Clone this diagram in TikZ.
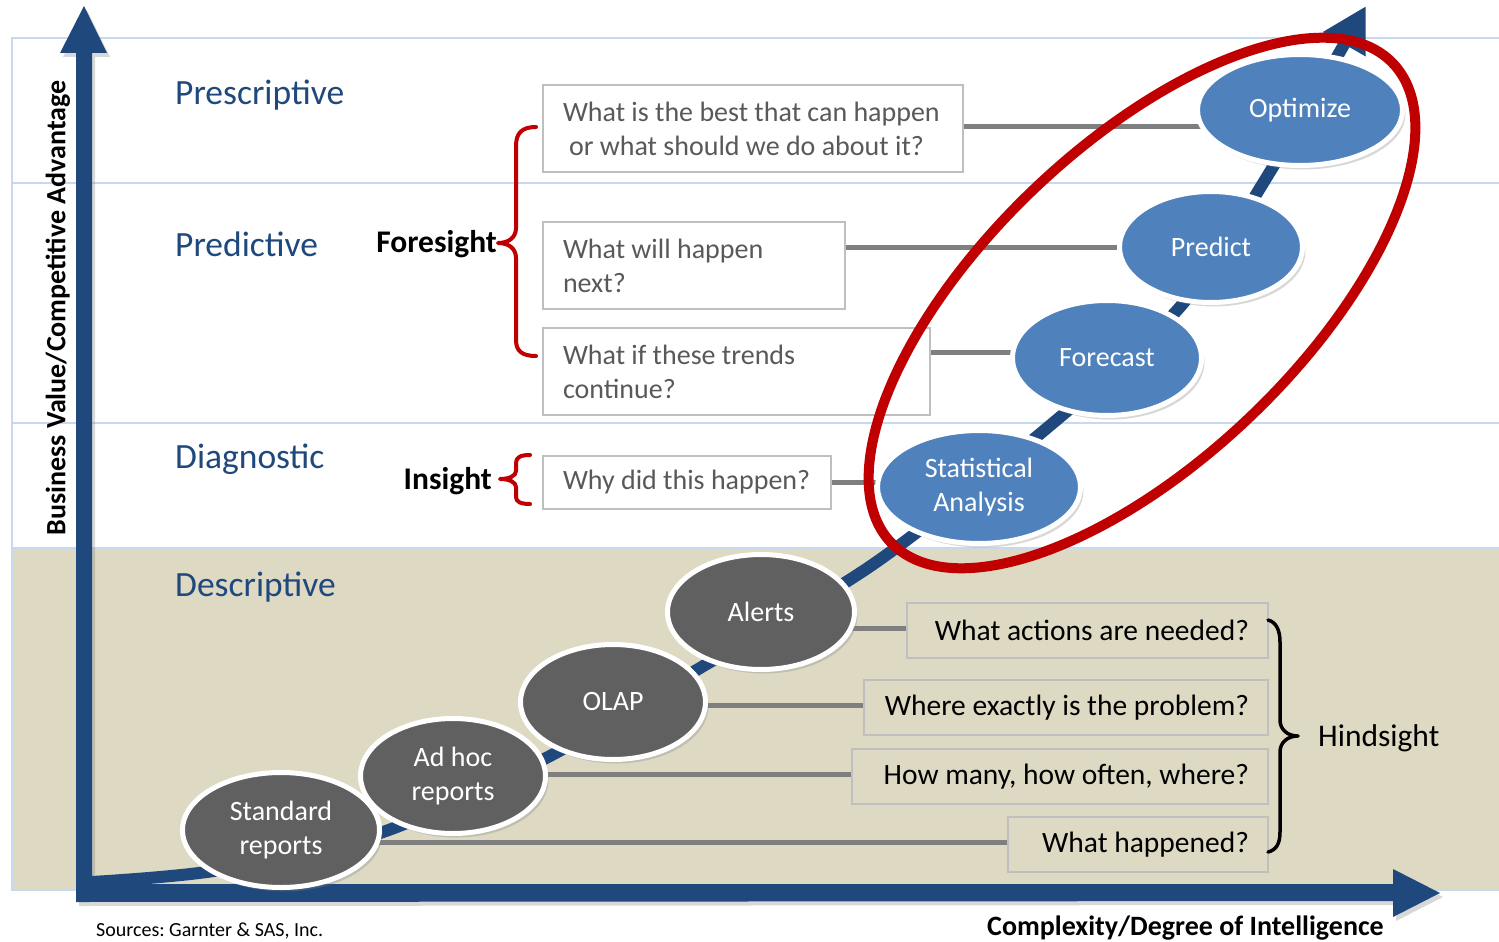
\documentclass[tikz,border=0pt]{standalone}
\usepackage{fontspec}
\setmainfont{Carlito}
\frenchspacing
\usetikzlibrary{shapes.geometric,arrows.meta,shadows}
\pgfdeclarelayer{bg}
\pgfsetlayers{bg,main}
\definecolor{axisblue}{HTML}{1F497D}
\definecolor{gridblue}{HTML}{C6D9F1}
\definecolor{tanbg}{HTML}{DDD9C3}
\definecolor{ellblue}{HTML}{4F81BD}
\definecolor{ellgray}{HTML}{606060}
\definecolor{boxgray}{HTML}{BFBFBF}
\definecolor{linkgray}{HTML}{7F7F7F}
\definecolor{qtext}{HTML}{595959}
\definecolor{bracered}{HTML}{C00000}
\tikzset{
 ell/.style={ellipse, draw=white, line width=5pt, inner sep=0pt, text=white, align=center,
   font=\fontsize{28}{34}\selectfont,
   drop shadow={opacity=0.3, shadow xshift=3pt, shadow yshift=-4pt}},
 ellb/.style={ell, fill=ellblue},
 ellg/.style={ell, fill=ellgray},
 qbox/.style={draw=boxgray, line width=2pt, inner xsep=20pt, inner ysep=0pt, anchor=north west,
   font=\fontsize{28}{34}\selectfont},
 qup/.style={qbox, fill=white, text=qtext},
 qlow/.style={qbox, inner xsep=19pt, fill=tanbg, text=black, font=\fontsize{29.5}{34}\selectfont},
 link/.style={draw=linkgray, line width=5pt},
 linkshadow/.style={draw=black!22, line width=5pt},
 level/.style={anchor=base west, inner sep=0pt, text=axisblue, font=\fontsize{35.5}{40}\selectfont},
 sight/.style={inner sep=0pt, font=\bfseries\fontsize{31.5}{36}\selectfont, text=black},
 bracepath/.style={line width=4pt, line cap=round, line join=round},
}
\begin{document}
\begin{tikzpicture}[x=1pt,y=-1pt]
\useasboundingbox (0,0) rectangle (1499,942);
\begin{pgfonlayer}{bg}
\fill[white] (0,0) rectangle (1499,942);
\fill[tanbg] (12,548) rectangle (1499,890);
\draw[gridblue, line width=2pt] (1499,38) -- (12,38) -- (12,890) -- (1499,890);
\foreach \yy in {183,423,548} \draw[gridblue, line width=2pt] (12,\yy) -- (1499,\yy);
% axes
\fill[axisblue, drop shadow={opacity=0.3, shadow xshift=3pt, shadow yshift=-4pt}]
  (76,902) -- (76,53) -- (60,53) -- (84,6) -- (107,53) -- (92,53) -- (92,884)
  -- (1393,884) -- (1393,869) -- (1440,893) -- (1393,917) -- (1393,901) -- cycle;
% growth curve
\draw[axisblue, line width=12pt, -{Triangle[width=46pt,length=44pt]}]
  plot[smooth, tension=0.5] coordinates {(92,882) (220,870) (383,832) (548,757) (700,668) (875,563) (1053,423) (1180,307) (1265,180) (1366,6)};
\end{pgfonlayer}

% question boxes
\node[qup, minimum width=420pt, minimum height=87pt] (b1) at (542,84)
  {\parbox{380pt}{What is the best that can happen\\\hspace*{6pt}or what should we do about it?}};
\node[qup, minimum width=302pt, minimum height=87pt] (b2) at (542,221) {\parbox{262pt}{What will happen\\next?}};
\node[qup, minimum width=387pt, minimum height=87pt] (b3) at (542,327) {\parbox{347pt}{What if these trends\\continue?}};
\node[qup, minimum width=288pt, minimum height=53pt] (b4) at (542,455) {\makebox[248pt][l]{Why did this happen?}};
\node[qlow, minimum width=361pt, minimum height=55pt] (q5) at (906,602) {\makebox[323pt][r]{What actions are needed?}};
\node[qlow, minimum width=404pt, minimum height=55pt] (q6) at (863,679) {\makebox[366pt][r]{Where exactly is the problem?}};
\node[qlow, minimum width=416pt, minimum height=55pt] (q7) at (851,748) {\makebox[378pt][r]{How many, how often, where?}};
\node[qlow, minimum width=260pt, minimum height=55pt] (q8) at (1007,816) {\makebox[222pt][r]{What happened?}};

% ellipses
\node[ellb, minimum width=205pt, minimum height=111pt] (opt) at (1300,110) {Optimize};
\node[ellb, minimum width=183pt, minimum height=111pt] (pred) at (1211,247) {Predict};
\node[ellb, minimum width=189pt, minimum height=115pt] (fc) at (1107,358) {Forecast};
\node[ellb, minimum width=203pt, minimum height=113pt] (stat) at (979,487) {Statistical\\Analysis};
\node[ellg, minimum width=187pt, minimum height=115pt] (alerts) at (761,612) {Alerts};
\node[ellg, minimum width=185pt, minimum height=115pt] (olap) at (613,702) {OLAP};
\node[ellg, minimum width=185pt, minimum height=115pt] (adhoc) at (453,776) {Ad hoc\\reports};
\node[ellg, minimum width=197pt, minimum height=115pt] (std) at (281,830) {Standard\\reports};

\coordinate (b1c) at ([yshift=2pt]b1.east);
\coordinate (b3c) at ([yshift=19pt]b3.east);
\coordinate (q5c) at ([yshift=2pt]q5.west);
\coordinate (q6c) at ([yshift=2pt]q6.west);
\coordinate (q7c) at ([yshift=2pt]q7.west);
\coordinate (q8c) at ([yshift=2pt]q8.west);
\begin{pgfonlayer}{bg}
\foreach \st/\sh in {linkshadow/-3pt, link/0pt}{
  \begin{scope}[yshift=\sh]
  \draw[\st] (b1c) -- (b1c -| opt.center);
  \draw[\st] (pred.center -| b2.east) -- (pred.center);
  \draw[\st] (b3c) -- (b3c -| fc.center);
  \draw[\st] (b4.east) -- (b4.east -| stat.center);
  \draw[\st] (q5c) -- (q5c -| alerts.center);
  \draw[\st] (q6c) -- (q6c -| olap.center);
  \draw[\st] (q7c) -- (q7c -| adhoc.center);
  \draw[\st] (q8c) -- (q8c -| std.center);
  \end{scope}
}
\end{pgfonlayer}

% red ellipse
\draw[bracered, line width=10pt, rotate around={43.7:(1142,303)}] (1142,303) ellipse [x radius=347pt, y radius=157pt];

% braces
\draw[bracered, bracepath] (536,127) .. controls (522,127) and (516,133) .. (516,146) -- (516,228)
  .. controls (516,238) and (508,243) .. (498,243) .. controls (508,243) and (516,248) .. (516,258)
  -- (516,340) .. controls (516,351) and (522,356) .. (536,356);
\draw[bracered, bracepath] (530,455) .. controls (521,455) and (516,457) .. (516,463) -- (516,471)
  .. controls (516,476) and (509,479) .. (500,479) .. controls (509,479) and (516,482) .. (516,487)
  -- (516,497) .. controls (516,502) and (521,504) .. (530,504);
\draw[black, bracepath, line width=3.5pt] (1268,620) .. controls (1276,622) and (1280,630) .. (1280,642) -- (1280,720)
  .. controls (1280,730) and (1288,736) .. (1298,736) .. controls (1288,736) and (1280,742) .. (1280,752)
  -- (1280,832) .. controls (1280,844) and (1276,850) .. (1268,852);

% labels
\node[level] (lpres) at (175,104) {Prescriptive};
\node[level] (lpred) at (175,256) {Predictive};
\node[level] (ldiag) at (175,468) {Diagnostic};
\node[level] (ldesc) at (175,596) {Descriptive};
\node[sight, anchor=base east] (fore) at (497,252) {Foresight};
\node[sight, anchor=base east] (ins) at (492,489) {Insight};
\node[anchor=base west, inner sep=0pt, font=\fontsize{31.5}{36}\selectfont] (hind) at (1318,746) {Hindsight};
\node[rotate=90, inner sep=0pt, font=\bfseries\fontsize{28}{32}\selectfont] (yax) at (58,308) {Business Value/Competitive Advantage};
\node[anchor=base east, inner sep=0pt, font=\bfseries\fontsize{28}{32}\selectfont] (xax) at (1384,935) {Complexity/Degree of Intelligence};
\node[anchor=base west, inner sep=0pt, font=\fontsize{20}{24}\selectfont] (src) at (96,936) {Sources: Garnter \& SAS, Inc.};
\end{tikzpicture}
\end{document}
